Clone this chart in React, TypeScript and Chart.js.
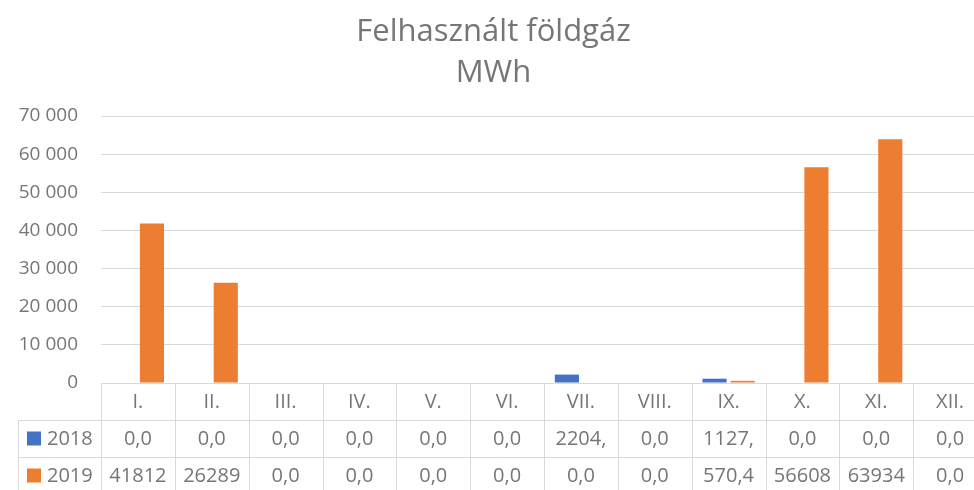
import React, { useEffect, useRef } from "react";
import { Chart, registerables } from "chart.js";

Chart.register(...registerables);

const titleLines = ["Felhasznált földgáz", "MWh"];
const months = ["I.", "II.", "III.", "IV.", "V.", "VI.", "VII.", "VIII.", "IX.", "X.", "XI.", "XII."];
const seriesNames = ["2018", "2019"];
const values2018 = [0, 0, 0, 0, 0, 0, 2204, 0, 1127, 0, 0, 0];
const values2019 = [41812, 26289, 0, 0, 0, 0, 0, 0, 570.4, 56608, 63934, 0];
const table2018 = ["0,0", "0,0", "0,0", "0,0", "0,0", "0,0", "2204,", "0,0", "1127,", "0,0", "0,0", "0,0"];
const table2019 = ["41812", "26289", "0,0", "0,0", "0,0", "0,0", "0,0", "0,0", "570,4", "56608", "63934", "0,0"];
const yMin = 0;
const yMax = 70000;
const yStep = 10000;

const colors = ["#4472C4", "#ED7D31"];
const textColor = "#767676";
const lineColor = "#d9d9d9";
const fontFamily = "'Open Sans', sans-serif";

const formatTick = (v: number) => {
  const s = Math.round(v).toString();
  return s.replace(/\B(?=(\d{3})+(?!\d))/g, " ");
};

const tablePlugin = {
  id: "dataTable",
  afterDraw(chart: any) {
    const ctx = chart.ctx;
    const area = chart.chartArea;
    const xs = chart.scales.x;
    const n = months.length;
    const colW = (area.right - area.left) / n;
    const rowH = 37;
    const top = Math.round(area.bottom);
    const r1 = top + rowH;
    const r2 = r1 + rowH;
    const bottom = chart.height;
    const legendLeft = 18;

    ctx.save();
    ctx.strokeStyle = lineColor;
    ctx.lineWidth = 1;
    ctx.beginPath();
    ctx.moveTo(area.left, top + 0.5);
    ctx.lineTo(area.right, top + 0.5);
    ctx.moveTo(legendLeft, r1 + 0.5);
    ctx.lineTo(area.right, r1 + 0.5);
    ctx.moveTo(legendLeft, r2 + 0.5);
    ctx.lineTo(area.right, r2 + 0.5);
    for (let i = 0; i <= n; i++) {
      const x = Math.round(area.left + i * colW) + 0.5;
      ctx.moveTo(x, top);
      ctx.lineTo(x, bottom);
    }
    ctx.moveTo(legendLeft + 0.5, r1);
    ctx.lineTo(legendLeft + 0.5, bottom);
    ctx.stroke();

    ctx.fillStyle = textColor;
    ctx.font = `20px ${fontFamily}`;
    ctx.textAlign = "center";
    ctx.textBaseline = "middle";
    const rows = [table2018, table2019];
    for (let i = 0; i < n; i++) {
      const cx = xs.getPixelForValue(i);
      ctx.fillText(months[i], cx, top + rowH / 2 + 1);
      ctx.fillText(rows[0][i], cx, r1 + rowH / 2 + 1);
      ctx.fillText(rows[1][i], cx, r2 + rowH / 2 + 1);
    }
    ctx.textAlign = "left";
    [r1, r2].forEach((ry, k) => {
      const cy = ry + rowH / 2;
      ctx.fillStyle = colors[k];
      ctx.fillRect(27, cy - 7, 14, 14);
      ctx.fillStyle = textColor;
      ctx.fillText(seriesNames[k], 47, cy + 1);
    });
    ctx.restore();
  },
};

export default function App() {
  const ref = useRef<HTMLCanvasElement>(null);

  useEffect(() => {
    document.body.style.margin = "0";
    const canvas = ref.current!;
    const chart = new Chart(canvas, {
      type: "bar",
      data: {
        labels: months,
        datasets: [
          {
            label: seriesNames[0],
            data: values2018,
            backgroundColor: colors[0],
            categoryPercentage: 0.76,
            barPercentage: 0.86,
          },
          {
            label: seriesNames[1],
            data: values2019,
            backgroundColor: colors[1],
            categoryPercentage: 0.76,
            barPercentage: 0.86,
          },
        ],
      },
      options: {
        responsive: false,
        animation: false,
        devicePixelRatio: 1,
        layout: { padding: { left: 0, right: 0, top: 0, bottom: 107 } },
        plugins: {
          legend: { display: false },
          tooltip: { enabled: false },
          title: {
            display: true,
            text: titleLines,
            color: textColor,
            font: { family: fontFamily, size: 31, weight: "normal", lineHeight: 1.34 },
            padding: { top: 11, bottom: 22 },
          },
        },
        scales: {
          x: {
            display: false,
          },
          y: {
            min: yMin,
            max: yMax,
            afterFit: (s: any) => {
              s.width = 101;
            },
            border: { display: false },
            grid: { color: lineColor, drawTicks: false, lineWidth: 1 },
            ticks: {
              stepSize: yStep,
              padding: 23,
              color: textColor,
              font: { family: fontFamily, size: 19 },
              callback: (v: any) => formatTick(Number(v)),
            },
          },
        },
      },
      plugins: [tablePlugin],
    });
    return () => chart.destroy();
  }, []);

  return (
    <div style={{ width: 974, height: 490, overflow: "hidden", position: "relative", background: "#fff" }}>
      <canvas ref={ref} width={987} height={490} style={{ display: "block" }} />
    </div>
  );
}
